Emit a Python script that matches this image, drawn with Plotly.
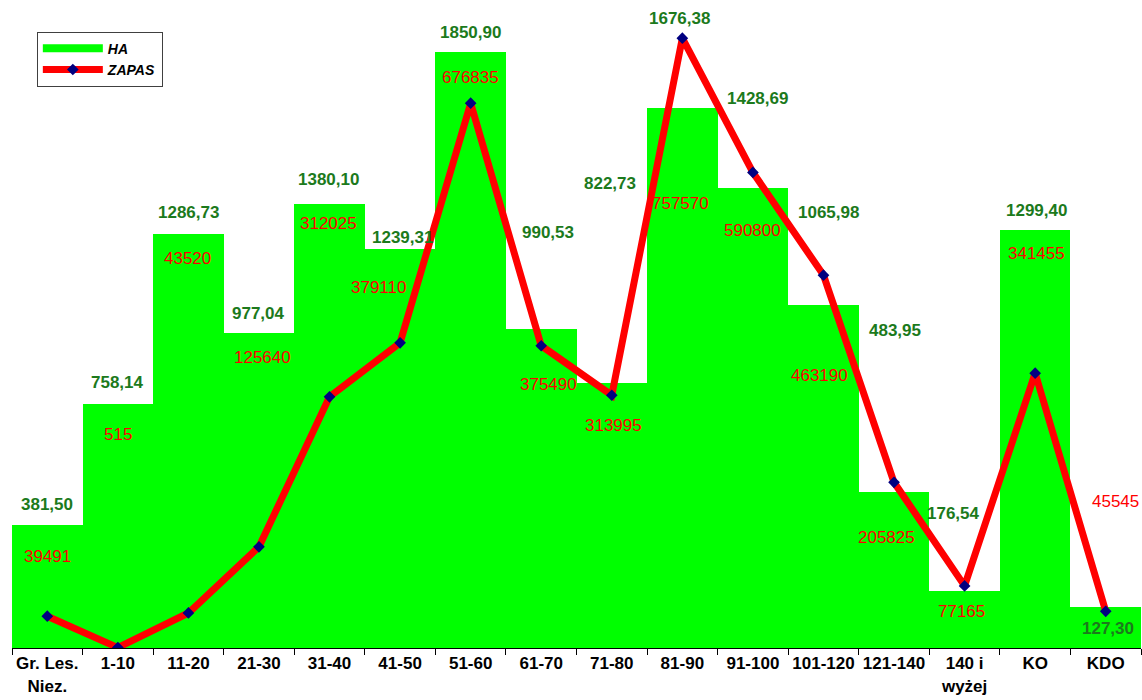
import plotly.graph_objects as go

categories = ["Gr. Les.<br>Niez.", "1-10", "11-20", "21-30", "31-40", "41-50", "51-60", "61-70",
              "71-80", "81-90", "91-100", "101-120", "121-140", "140 i<br>wyżej", "KO", "KDO"]
ha = [381.50, 758.14, 1286.73, 977.04, 1380.10, 1239.31, 1850.90, 990.53,
      822.73, 1676.38, 1428.69, 1065.98, 483.95, 176.54, 1299.40, 127.30]
zapas = [39491, 515, 43520, 125640, 312025, 379110, 676835, 375490,
         313995, 757570, 590800, 463190, 205825, 77165, 341455, 45545]

# label placement (pixel shifts relative to the data point), as in the original
ha_label_dy = [21, 21, 21, 20, 24, 11, 20, 97, 200, 90, 89, 92, 162, 78, 19, -21]
ha_label_dx = [0, 0, 0, 0, -1, 2, 0, 7, -2, -3, 5, 5, 1, -11, 1, 2]
zp_label_dy = [60, 213, 354, 189, 173, 55, 26, -39, -30, -165, -58, -100, -55, -26, 120, 110]
zp_label_dx = [0, 0, -1, 4, -1, -22, 0, 7, 2, -2, 0, -4, -8, -3, 1, 10]

GREEN = "#00FF00"
LABEL_GREEN = "#1C7A1C"
RED = "#FF0000"
NAVY = "#000080"
FONT = "Liberation Sans, Arial, sans-serif"

fig = go.Figure()
fig.add_trace(go.Bar(x=categories, y=ha, name="HA", marker=dict(color=GREEN, line=dict(width=0)),
                     showlegend=False, yaxis="y"))
# legend entry for HA drawn as a wide green stroke like the original
fig.add_trace(go.Scatter(x=[None], y=[None], mode="lines", name="HA",
                         line=dict(color=GREEN, width=8), yaxis="y"))
fig.add_trace(go.Scatter(x=categories, y=zapas, name="ZAPAS", mode="lines+markers",
                         line=dict(color=RED, width=7),
                         marker=dict(symbol="diamond", size=9, color=NAVY),
                         yaxis="y2"))

annotations = []
for c, v, dx, dy in zip(categories, ha, ha_label_dx, ha_label_dy):
    annotations.append(dict(x=c, y=v, xref="x", yref="y", text=f"{v:.2f}".replace(".", ","),
                            showarrow=False, xshift=dx, yshift=dy,
                            font=dict(family=FONT, size=17, color=LABEL_GREEN, weight="bold")))
for c, v, dx, dy in zip(categories, zapas, zp_label_dx, zp_label_dy):
    annotations.append(dict(x=c, y=v, xref="x", yref="y2", text=str(v),
                            showarrow=False, xshift=dx, yshift=dy,
                            font=dict(family=FONT, size=17, color=RED)))

fig.update_layout(
    width=1142, height=700,
    margin=dict(l=12, r=1, t=4, b=52),
    paper_bgcolor="white", plot_bgcolor="white",
    bargap=0,
    font=dict(family=FONT),
    xaxis=dict(type="category", range=[-0.5, len(categories) - 0.5],
               tickson="boundaries", ticks="outside", ticklen=6, tickangle=0,
               tickcolor="black", tickwidth=1, showline=True, linecolor="black", linewidth=1,
               showgrid=False, automargin=False,
               tickfont=dict(family=FONT, size=17, color="black", weight="bold")),
    yaxis=dict(range=[0, 2000], visible=False, showgrid=False),
    yaxis2=dict(range=[0, 800000], visible=False, overlaying="y", showgrid=False),
    legend=dict(x=0.022, y=0.957, xanchor="left", yanchor="top",
                bordercolor="#404040", borderwidth=1, bgcolor="white",
                itemwidth=60,
                font=dict(family=FONT, size=14, color="black", weight="bold", style="italic"),
                tracegroupgap=2),
    annotations=annotations,
    showlegend=True,
)

fig.write_html("out.html", config={"displayModeBar": False},
               post_script="document.body.style.margin='0';")
